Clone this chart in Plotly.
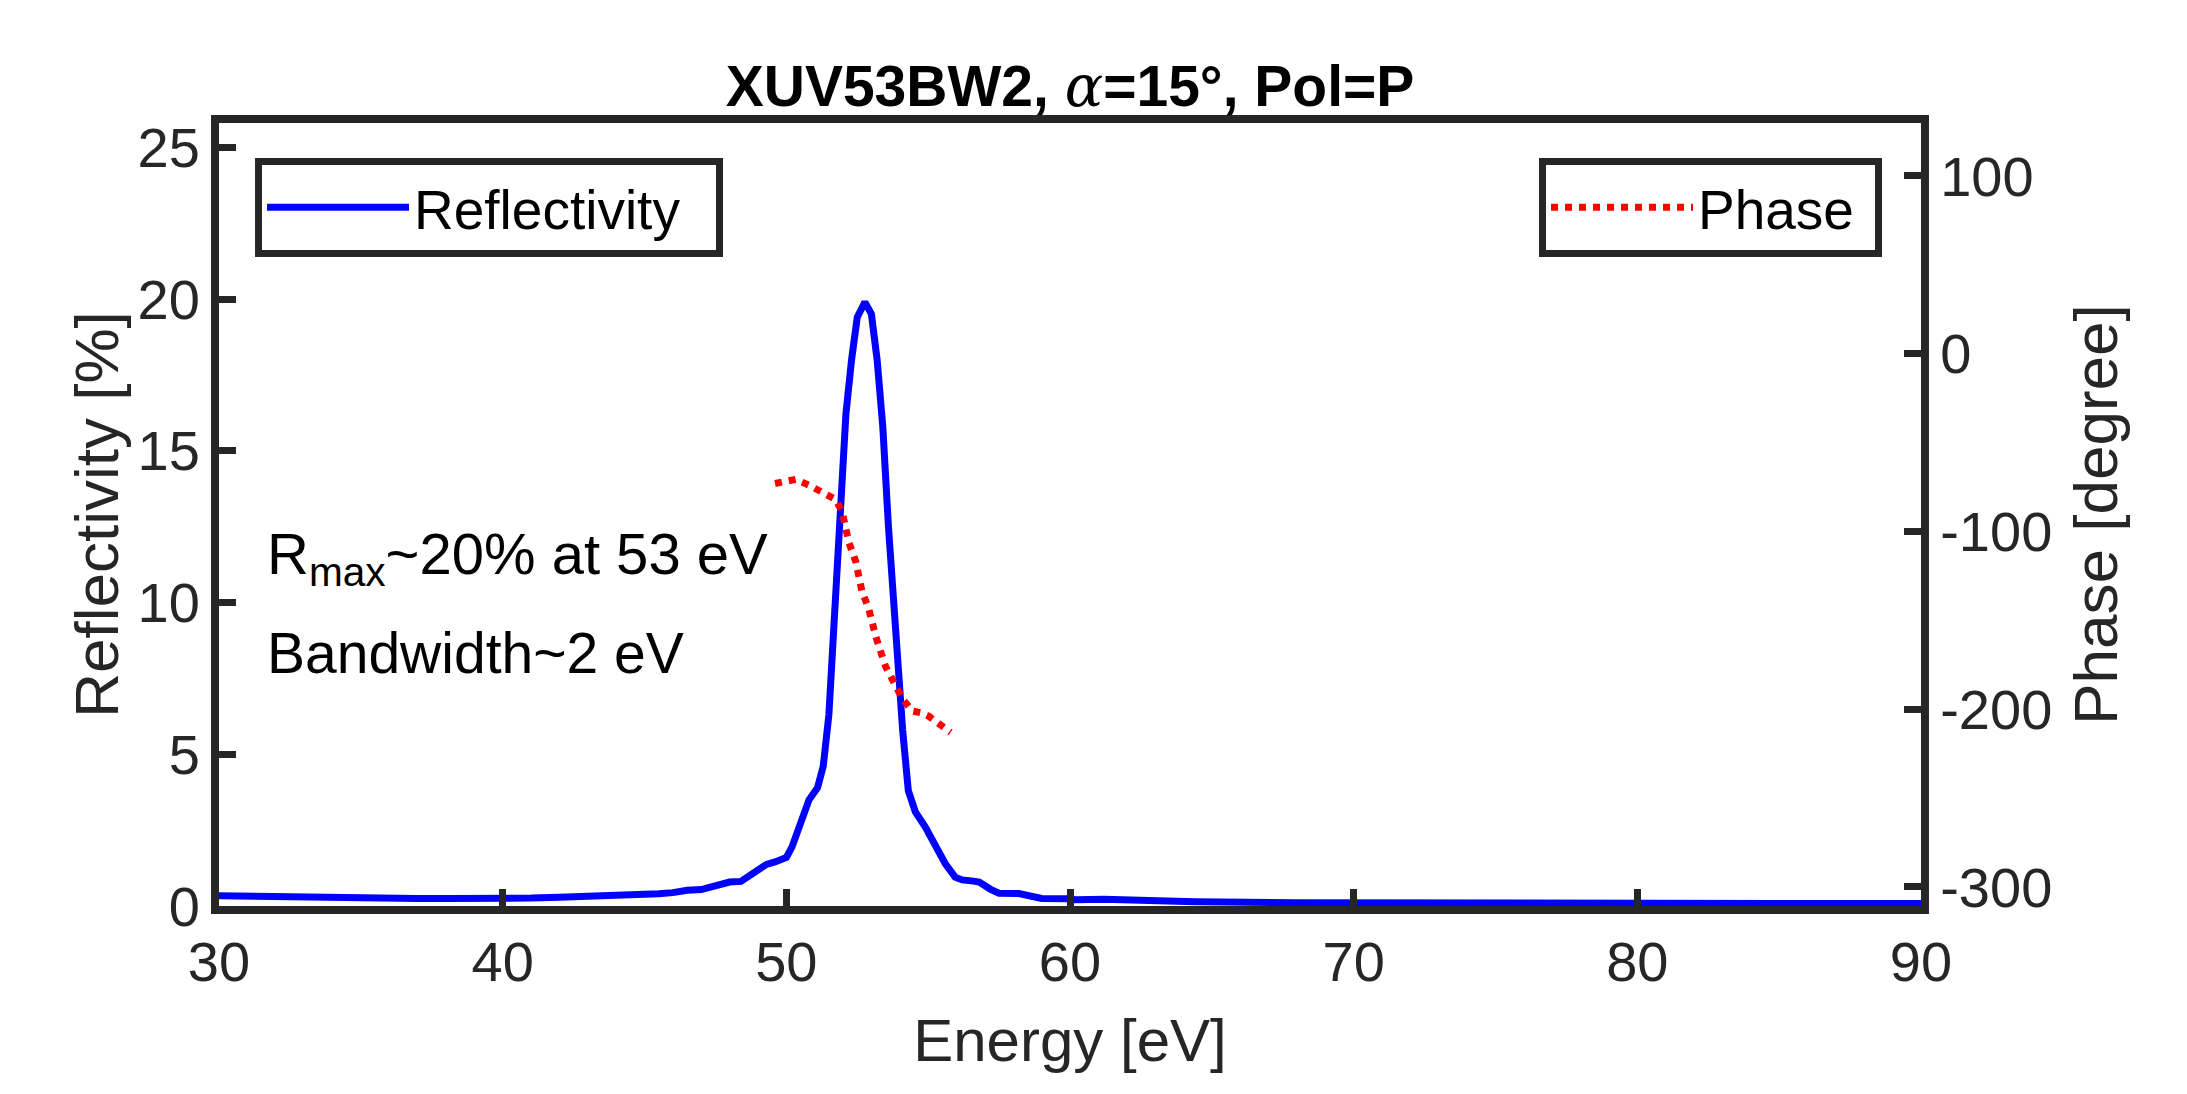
import plotly.graph_objects as go

# ---- data ----
energy_refl = [30, 31, 32, 33, 34, 35, 36, 37, 38, 39, 40, 41, 42, 43, 43.5, 44, 44.5, 45, 45.5,
               46, 46.5, 47, 47.5, 48, 48.4, 48.7, 49, 49.3, 49.6, 50.0, 50.2, 50.4, 50.6, 50.8,
               51.1, 51.3, 51.5, 51.7, 51.9, 52.1, 52.3, 52.5, 52.77, 53.0, 53.2, 53.4, 53.6,
               53.85, 54.1, 54.3, 54.55, 54.9, 55.25, 55.6, 55.95, 56.2, 56.6, 56.8, 57.2, 57.5,
               58.2, 58.5, 59.0, 59.9, 60.2, 61.2, 62.6, 64.4, 67.9, 70, 75, 80, 85, 90]
reflectivity = [0.34, 0.32, 0.30, 0.29, 0.28, 0.27, 0.26, 0.25, 0.25, 0.24, 0.24, 0.26, 0.29,
                0.31, 0.32, 0.34, 0.35, 0.37, 0.40, 0.44, 0.52, 0.54, 0.68, 0.79, 0.81, 1.0,
                1.23, 1.37, 1.45, 1.6, 1.95, 2.5, 3.1, 3.5, 3.9, 4.6, 6.3, 9.3, 13.0, 16.2,
                18.0, 19.4, 19.9, 19.5, 18.0, 15.8, 12.5, 9.0, 5.8, 3.8, 3.1, 2.6, 2.0, 1.4,
                0.95, 0.86, 0.82, 0.79, 0.55, 0.42, 0.41, 0.35, 0.25, 0.24, 0.21, 0.22, 0.17,
                0.14, 0.11, 0.10, 0.09, 0.08, 0.08, 0.08]

energy_phase = [49.6, 50.0, 50.33, 50.8, 51.27, 51.74, 51.97, 52.2, 52.45, 52.67, 52.9, 53.15,
                53.5, 53.86, 54.09, 54.44, 54.75, 55.03, 55.38, 55.79]
phase = [-73, -71.5, -70.7, -74, -77.7, -82, -89, -106, -117, -134, -143, -159, -176, -187,
         -194, -201, -202, -204, -208, -213]

x_ticks = [30, 40, 50, 60, 70, 80, 90]
y_ticks = [0, 5, 10, 15, 20, 25]
y2_ticks = [-300, -200, -100, 0, 100]
y2_ticktext = ["-300", "-200", "-100", "0", "100"]

FONT = "Liberation Sans, Arial, Helvetica, sans-serif"
AX = "#262626"
W, H = 2187, 1094
L, R, T, B = 219, 266, 123, 188
PW, PH = W - L - R, H - T - B

fig = go.Figure()
fig.add_trace(go.Scatter(x=energy_refl, y=reflectivity, mode="lines",
                         name="Reflectivity\u00a0\u00a0",
                         line=dict(color="#0000FF", width=7), legend="legend"))
fig.add_trace(go.Scatter(x=energy_phase, y=phase, mode="lines", name="Phase\u00a0",
                         yaxis="y2",
                         line=dict(color="#FF0000", width=7, dash="dot"), legend="legend2"))

axis_common = dict(ticks="inside", ticklen=17, tickwidth=7, tickcolor=AX, showline=True,
                   linewidth=8, linecolor=AX, showgrid=False, zeroline=False,
                   tickfont=dict(size=56, color=AX))

fig.update_layout(
    width=W, height=H,
    margin=dict(l=L, r=R, t=T, b=B),
    paper_bgcolor="white", plot_bgcolor="white",
    font=dict(family=FONT, size=56, color=AX),
    title=dict(
        text="<b>XUV53BW2, </b><span style=\"font-family:DejaVu Serif\"><i>α</i></span><b>=15°, Pol=P</b>",
        x=0.5, xref="paper", xanchor="center", y=1 - 86 / H, yanchor="middle",
        font=dict(family=FONT, size=57, color="black")),
    xaxis=dict(range=[30, 90], tickvals=x_ticks, mirror=True,
               title=dict(text="Energy [eV]", font=dict(size=60, color=AX), standoff=30),
               **axis_common),
    yaxis=dict(range=[0, 25.8], tickvals=y_ticks,
               title=dict(text="Reflectivity [%]", font=dict(size=62, color=AX), standoff=2),
               **axis_common),
    yaxis2=dict(range=[-310.7, 129.8], tickvals=y2_ticks, ticktext=y2_ticktext,
                overlaying="y", side="right",
                title=dict(text="Phase [degree]", font=dict(size=62, color=AX), standoff=25),
                **axis_common),
    legend=dict(x=(255 - L) / PW, y=(H - B - 158) / PH, xanchor="left", yanchor="top",
                bgcolor="white", bordercolor=AX, borderwidth=7,
                font=dict(size=55, color="black"), itemwidth=142, tracegroupgap=0),
    legend2=dict(x=(1882 - L) / PW, y=(H - B - 158) / PH, xanchor="right", yanchor="top",
                 bgcolor="white", bordercolor=AX, borderwidth=7,
                 font=dict(size=55, color="black"), itemwidth=142, tracegroupgap=0),
    showlegend=True,
)

fig.add_annotation(text="R<sub>max</sub>~20% at 53 eV", xref="paper", yref="paper",
                   x=(265 - L) / PW, y=(H - B - 558) / PH, xanchor="left", yanchor="middle",
                   showarrow=False, font=dict(family=FONT, size=58, color="black"))
fig.add_annotation(text="Bandwidth~2 eV", xref="paper", yref="paper",
                   x=(265 - L) / PW, y=(H - B - 653) / PH, xanchor="left", yanchor="middle",
                   showarrow=False, font=dict(family=FONT, size=57, color="black"))

fig.write_html("out.html", config={"displayModeBar": False},
               post_script="document.body.style.margin='0';")
